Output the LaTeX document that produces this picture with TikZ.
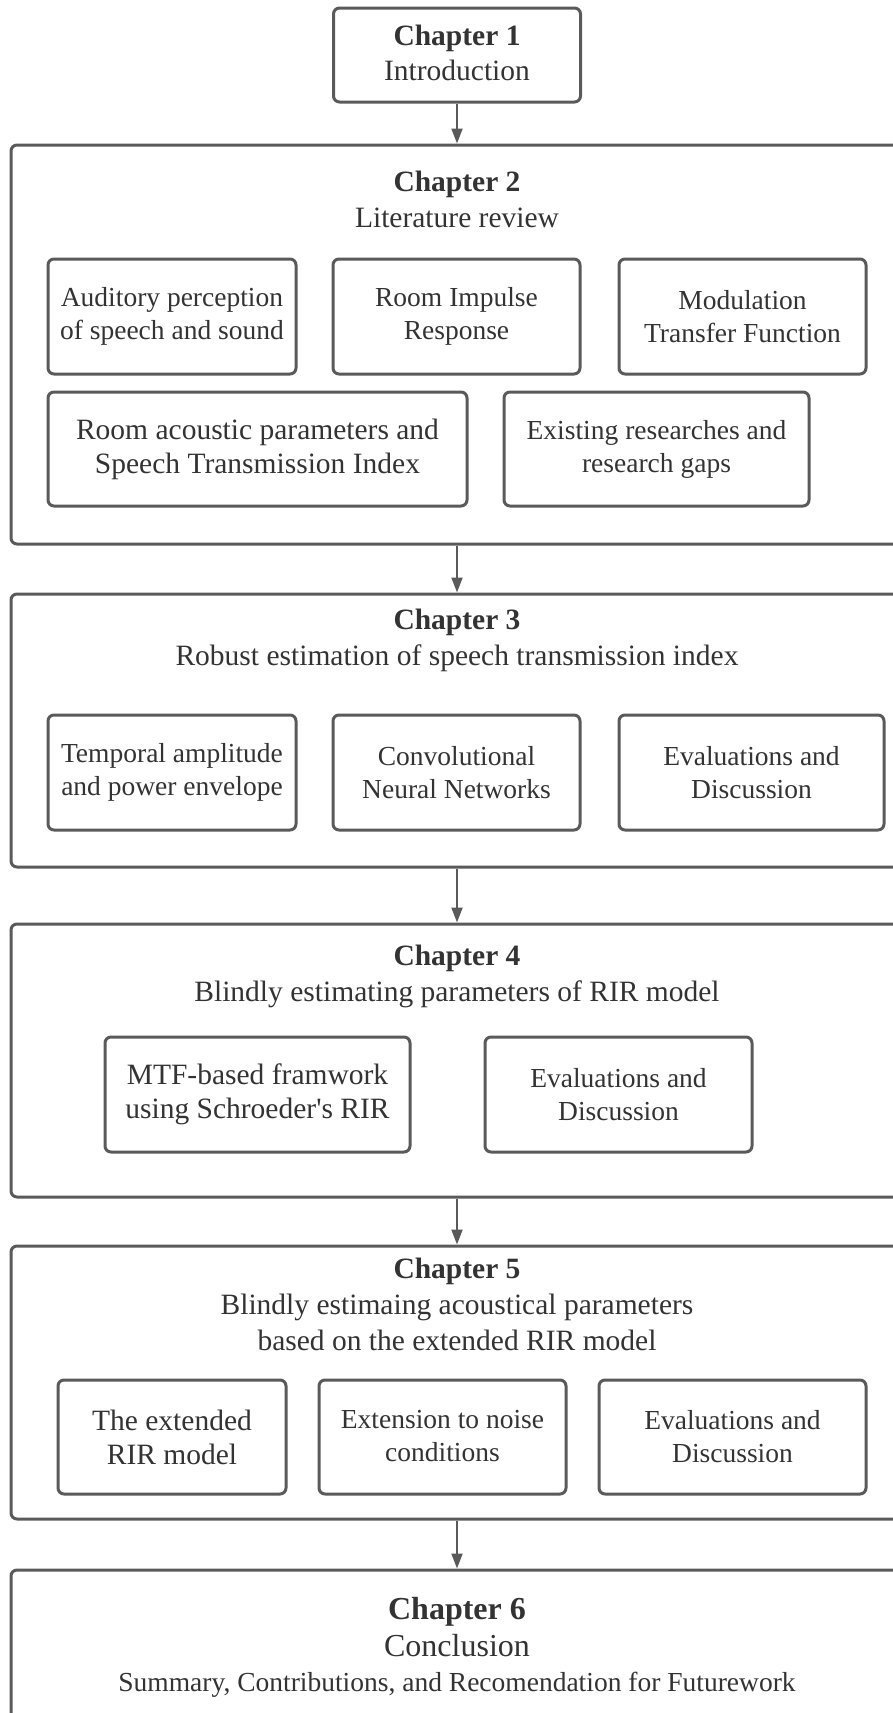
\documentclass[tikz,border=0pt]{standalone}
\usepackage{fontspec}
\setmainfont{Liberation Serif}
\usetikzlibrary{arrows.meta,positioning}
\definecolor{linegray}{HTML}{5A5A5A}
\definecolor{textgray}{HTML}{333333}
\tikzset{every picture/.style={line width=0.75pt}}
\tikzset{
  chapbox/.style={draw=linegray,line width=3pt,rounded corners=6pt,fill=white},
  subbox/.style={draw=linegray,line width=3pt,rounded corners=6pt,align=center,
    text=textgray,font=\fontsize{27.5}{33}\selectfont,inner sep=0pt},
  bigtext/.style={font=\fontsize{29.5}{34}\selectfont},
  chaptitle/.style={align=center,text=textgray,font=\fontsize{29.5}{36}\selectfont},
  flow/.style={draw=linegray,line width=2pt,-{Triangle[length=15pt,width=11pt]}}
}

\begin{document}
\begin{tikzpicture}[x=1pt,y=-1pt]
    \useasboundingbox (0,0) rectangle (892,1713);

    % Chapter 1
    \node[subbox,minimum width=247pt,minimum height=94pt,font=\fontsize{29.5}{35}\selectfont] (c1) at (457,55) {\raisebox{4pt}{\textbf{Chapter 1}}\\\raisebox{4pt}{Introduction}};

    % Chapter 2
    \node[chapbox,minimum width=892pt,minimum height=399pt] (c2) at (457,344.5) {};
    \node[chaptitle] (t2) at (457,199) {\textbf{Chapter 2}\\Literature review};
    \node[subbox,minimum width=248pt,minimum height=115pt] (audit) at (172,316.5) {Auditory perception\\of speech and sound};
    \node[subbox,minimum width=247pt,minimum height=115pt] (rir) at (456.5,316.5) {Room Impulse\\Response};
    \node[subbox,minimum width=247pt,minimum height=115pt] (mtf) at (742.5,316.5) {Modulation\\Transfer Function};
    \node[subbox,bigtext,minimum width=419pt,minimum height=114pt] (sti) at (257.5,449) {Room acoustic parameters and\\Speech Transmission Index};
    \node[subbox,minimum width=305pt,minimum height=114pt] (gaps) at (656.5,449) {Existing researches and\\research gaps};

    % Chapter 3
    \node[chapbox,minimum width=892pt,minimum height=273pt] (c3) at (457,730.5) {};
    \node[chaptitle] (t3) at (457,640) {\textbf{Chapter 3}\\Robust estimation of speech transmission index};
    \node[subbox,minimum width=248pt,minimum height=115pt] (env) at (172,772.5) {Temporal amplitude\\and power envelope};
    \node[subbox,minimum width=247pt,minimum height=115pt] (cnn) at (456.5,772.5) {Convolutional\\Neural Networks};
    \node[subbox,minimum width=265pt,minimum height=115pt] (eval3) at (751.5,772.5) {Evaluations and\\Discussion};

    % Chapter 4
    \node[chapbox,minimum width=892pt,minimum height=273pt] (c4) at (457,1060.5) {};
    \node[chaptitle] (t4) at (457,976) {\textbf{Chapter 4}\\Blindly estimating parameters of RIR model};
    \node[subbox,bigtext,minimum width=305pt,minimum height=115pt] (frame) at (257.5,1094.5) {MTF-based framwork\\using Schroeder\textquotesingle s RIR};
    \node[subbox,minimum width=267pt,minimum height=115pt] (eval4) at (618.5,1094.5) {Evaluations and\\Discussion};

    % Chapter 5
    \node[chapbox,minimum width=892pt,minimum height=273pt] (c5) at (457,1382.5) {};
    \node[chaptitle] (t5) at (457,1304) {\textbf{Chapter 5}\\Blindly estimaing acoustical parameters\\based on the extended RIR model};
    \node[subbox,bigtext,minimum width=228pt,minimum height=114pt] (ext) at (172,1437) {The extended\\RIR model};
    \node[subbox,minimum width=247pt,minimum height=114pt] (noise) at (442.5,1437) {\raisebox{3pt}{Extension to noise}\\\raisebox{3pt}{conditions}};
    \node[subbox,minimum width=267pt,minimum height=114pt] (eval5) at (732.5,1437) {Evaluations and\\Discussion};

    % Chapter 6
    \node[chapbox,minimum width=892pt,minimum height=240pt] (c6) at (457,1690) {};
    \node[chaptitle,font=\fontsize{32}{37}\selectfont] (t6) at (457,1627) {\textbf{Chapter 6}\\Conclusion};
    \node[chaptitle,font=\fontsize{27.5}{33}\selectfont,below=8pt of t6] (sum) {Summary, Contributions, and Recomendation for Futurework};

    % flow
    \draw[flow] (c1) -- (c2);
    \draw[flow] (c2) -- (c3);
    \draw[flow] (c3) -- (c4);
    \draw[flow] (c4) -- (c5);
    \draw[flow] (c5) -- (c6);
\end{tikzpicture}
\end{document}
